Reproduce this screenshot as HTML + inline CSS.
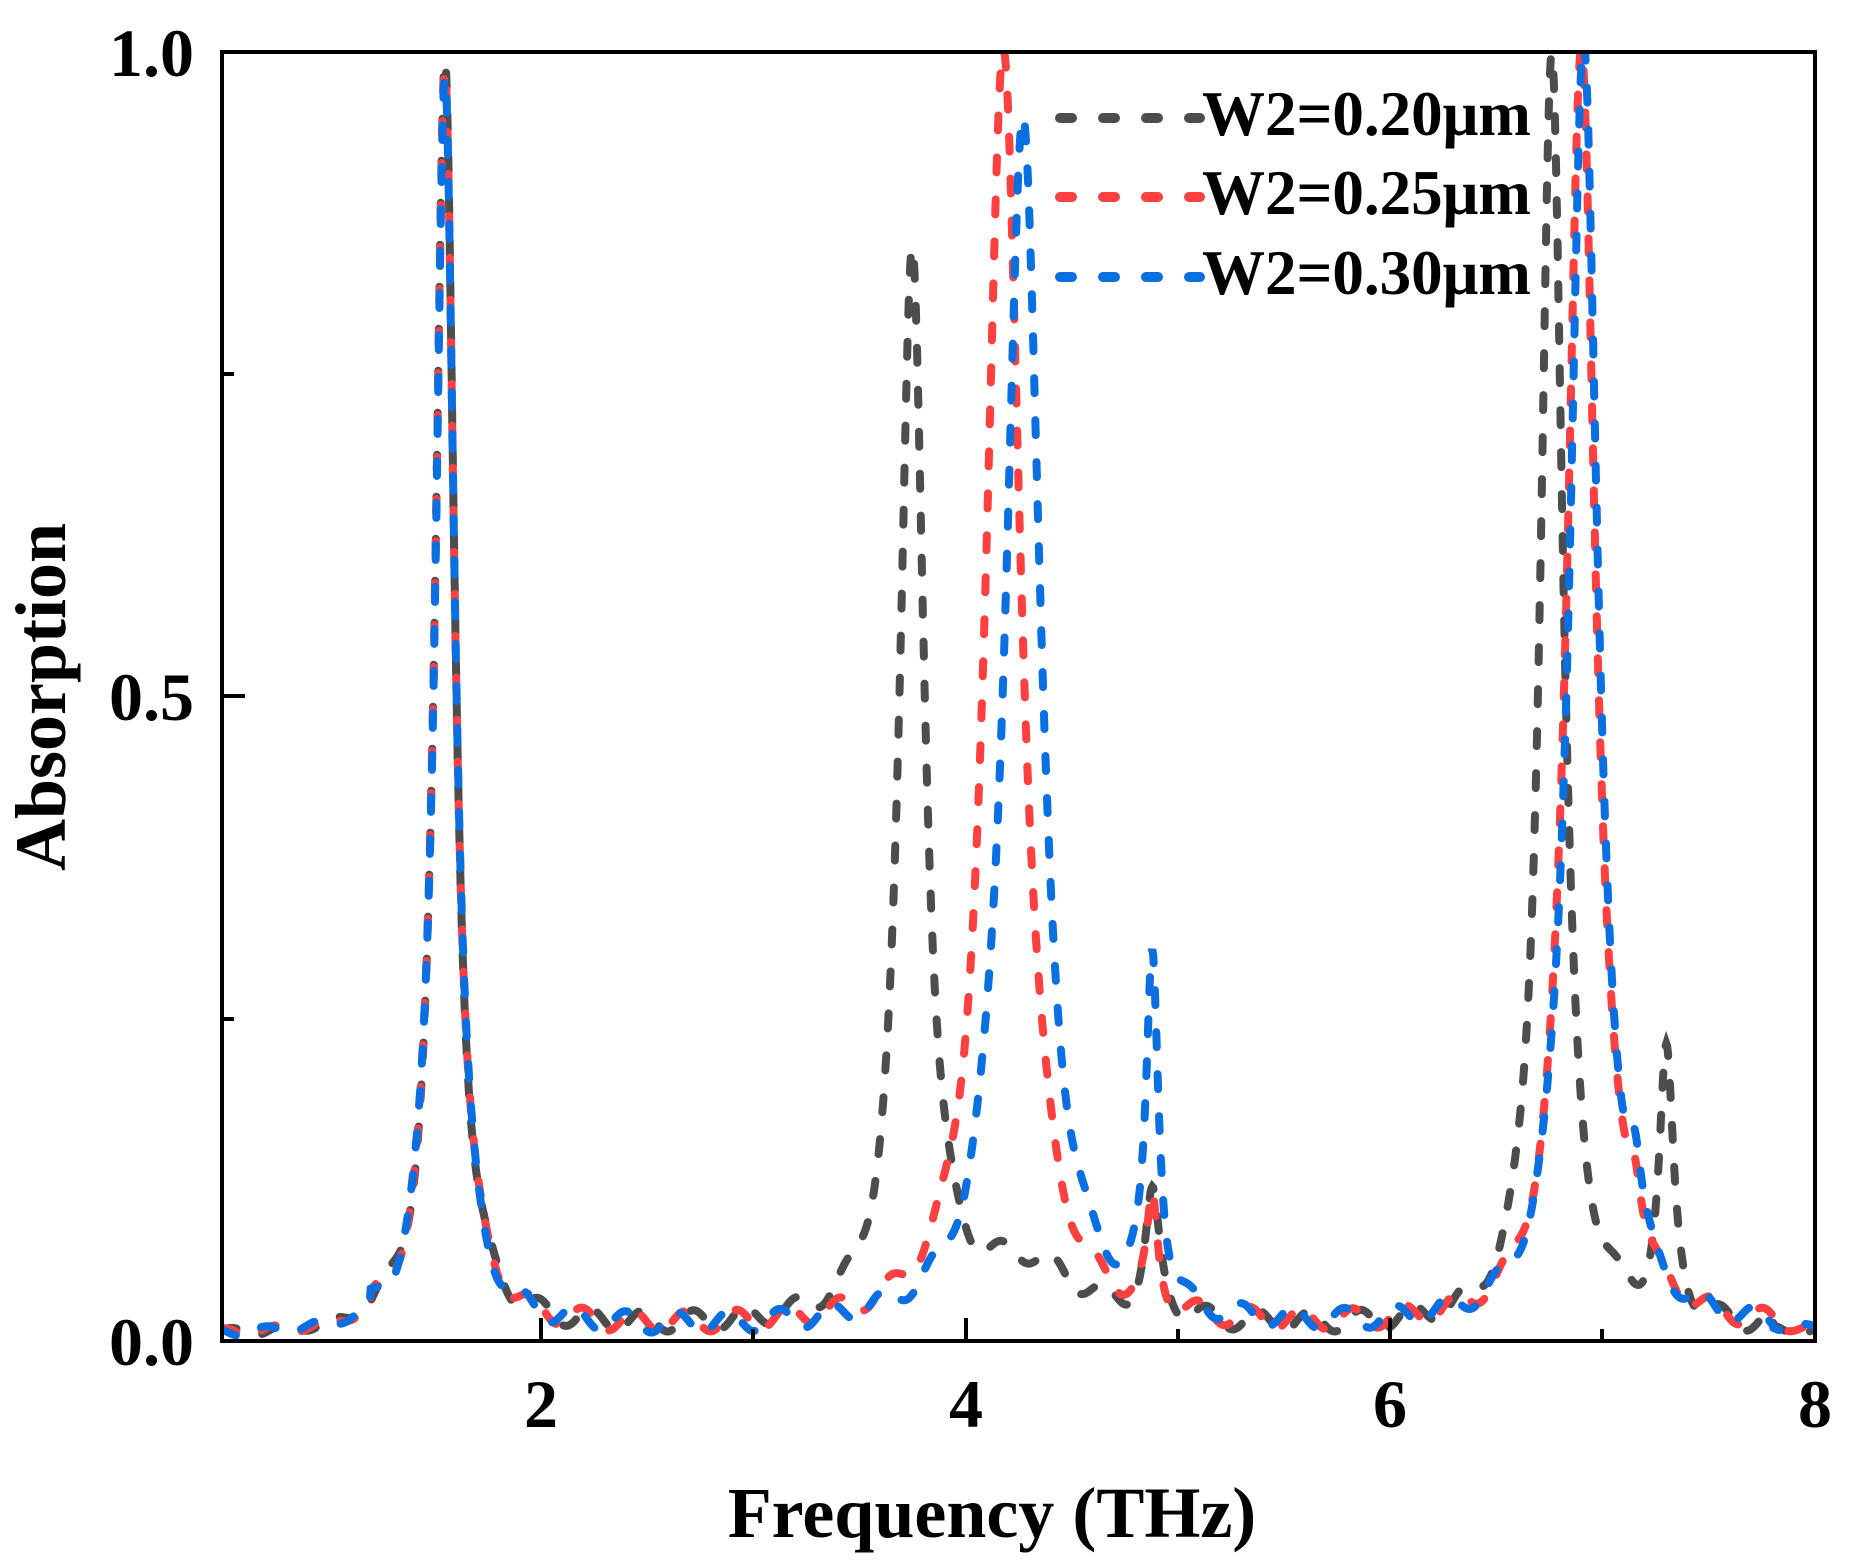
<!DOCTYPE html>
<html><head><meta charset="utf-8">
<style>
html,body{margin:0;padding:0;background:#fff;}
svg{display:block;}
text{font-family:"Liberation Serif",serif;font-weight:bold;fill:#000;}
</style></head>
<body>
<svg id="s" width="1854" height="1565" viewBox="0 0 1854 1565" xmlns="http://www.w3.org/2000/svg">
<defs><clipPath id="c"><rect x="222" y="52" width="1593" height="1289"/></clipPath></defs>
<g clip-path="url(#c)" fill="none" stroke-width="8" stroke-linecap="round" stroke-dasharray="15 27">
<path id="k" stroke="#4d4d4d"/>
<path id="r" stroke="#ff4040"/>
<path id="b" stroke="#0a6fe0"/>
</g>
<rect x="222" y="52" width="1593" height="1289" fill="none" stroke="#000" stroke-width="4"/>
<g stroke="#000" stroke-width="4">
<line x1="541" y1="1341" x2="541" y2="1318"/>
<line x1="753" y1="1341" x2="753" y2="1329"/>
<line x1="966" y1="1341" x2="966" y2="1318"/>
<line x1="1178" y1="1341" x2="1178" y2="1329"/>
<line x1="1390" y1="1341" x2="1390" y2="1318"/>
<line x1="1602" y1="1341" x2="1602" y2="1329"/>
<line x1="222" y1="1019" x2="234" y2="1019"/>
<line x1="222" y1="696" x2="245" y2="696"/>
<line x1="222" y1="374" x2="234" y2="374"/>
</g>
<g font-size="68" text-anchor="end">
<text x="194" y="1365">0.0</text>
<text x="194" y="720">0.5</text>
<text x="194" y="76">1.0</text>
</g>
<g font-size="68" text-anchor="middle">
<text x="541" y="1427">2</text>
<text x="966" y="1427">4</text>
<text x="1390" y="1427">6</text>
<text x="1815" y="1427">8</text>
</g>
<text x="992" y="1537" font-size="72" text-anchor="middle">Frequency (THz)</text>
<text transform="translate(65,697) rotate(-90)" font-size="72" text-anchor="middle">Absorption</text>
<g fill="none" stroke-width="10" stroke-linecap="round" stroke-dasharray="12 31">
<line x1="1060" y1="118" x2="1200" y2="118" stroke="#4d4d4d"/>
<line x1="1060" y1="197" x2="1200" y2="197" stroke="#ff4040"/>
<line x1="1060" y1="277" x2="1200" y2="277" stroke="#0a6fe0"/>
</g>
<g font-size="63">
<text x="1202" y="135">W2=0.20μm</text>
<text x="1202" y="214">W2=0.25μm</text>
<text x="1202" y="294">W2=0.30μm</text>
</g>
</svg>
<script>
function L(x,x0,a,g){return a*g*g/((x-x0)*(x-x0)+g*g);}
function ripple(x,ph){var env=(x>1.2&&x<7.8)?1:0.4;return env*0.008*(1+Math.sin(x*26+ph));}
function fk(x){return L(x,1.55,0.98,0.055)+L(x,3.75,0.83,0.07)+L(x,4.3,0.045,0.3)+L(x,4.88,0.09,0.04)+L(x,6.76,0.99,0.065)+L(x,7.3,0.2,0.04)+ripple(x,0);}
function fr(x){return L(x,1.55,0.98,0.055)+L(x,4.18,0.99,0.1)+L(x,4.88,0.08,0.03)+L(x,6.9,1.0,0.08)+L(x,7.15,0.05,0.04)+ripple(x,1);}
function fb(x){return L(x,1.55,0.98,0.055)+L(x,4.27,0.94,0.1)+L(x,4.88,0.27,0.035)+L(x,6.91,1.0,0.08)+L(x,7.15,0.06,0.04)+ripple(x,2);}
function path(f){var d="";for(var x=0.5;x<=8.0001;x+=0.004){var v=Math.min(f(x),1.02);var px=222+(x-0.5)*212.4,py=1341-v*1289;d+=(d?"L":"M")+px.toFixed(1)+" "+py.toFixed(1);}return d;}
document.getElementById("k").setAttribute("d",path(fk));
document.getElementById("r").setAttribute("d",path(fr));
document.getElementById("b").setAttribute("d",path(fb));
</script>
</body></html>
